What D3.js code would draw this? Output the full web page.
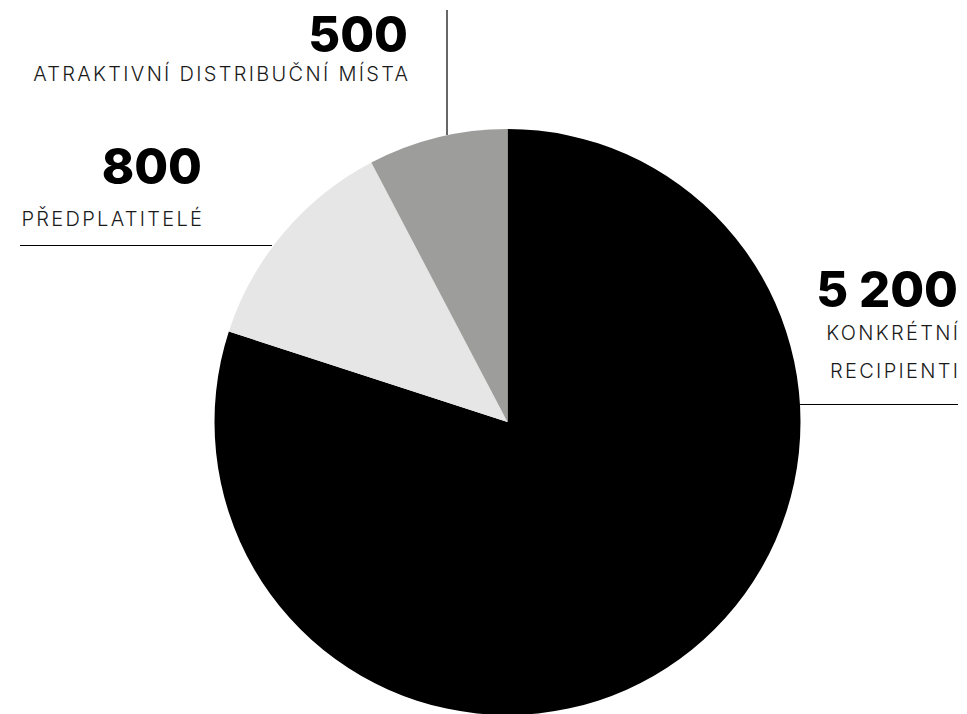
<!DOCTYPE html>
<html><head><meta charset="utf-8">
<script src="https://cdn.jsdelivr.net/npm/d3@7"></script>
<style>
html,body{margin:0;padding:0;background:#fff;}
svg{display:block;}
.num{font-family:Inter, sans-serif;font-weight:800;}
.lab{font-family:Inter, sans-serif;font-weight:300;letter-spacing:2.3px;}
</style></head>
<body>
<svg id="chart" width="967" height="714"></svg>
<script>
const categories = ["KONKRÉTNÍ RECIPIENTI", "PŘEDPLATITELÉ", "ATRAKTIVNÍ DISTRIBUČNÍ MÍSTA"];
const values = [5200, 800, 500];
const valueLabels = ["5 200", "800", "500"];
const labelLines = [["KONKRÉTNÍ", "RECIPIENTI"], ["PŘEDPLATITELÉ"], ["ATRAKTIVNÍ DISTRIBUČNÍ MÍSTA"]];
const colors = ["#000000", "#e6e6e6", "#9d9d9c"];

const svg = d3.select("#chart");
const cx = 507.5, cy = 422, r = 293;

const pie = d3.pie().sort(null).value(d => d)(values);
const arc = d3.arc().innerRadius(0).outerRadius(r);
const g = svg.append("g").attr("transform", `translate(${cx},${cy})`);
g.selectAll("path").data(pie).join("path")
  .attr("d", arc)
  .attr("fill", (d, i) => colors[i]);

// leader lines
svg.append("line").attr("x1", 447).attr("x2", 447).attr("y1", 10).attr("y2", 135)
  .attr("stroke", "#000").attr("stroke-width", 1.2);
svg.append("line").attr("x1", 20).attr("x2", 272).attr("y1", 245.5).attr("y2", 245.5)
  .attr("stroke", "#000").attr("stroke-width", 1.2);
svg.append("line").attr("x1", 800).attr("x2", 958).attr("y1", 404.5).attr("y2", 404.5)
  .attr("stroke", "#000").attr("stroke-width", 1.2);

// labels (letter-spacing adds trailing space; shift x by it)
const ls = 2.3;
const labelPos = [
  {x: 958, ny: 307, ly: [340, 378]},
  {x: 202, ny: 184, ly: [226]},
  {x: 408, ny: 52, ly: [81]}
];
categories.forEach((c, i) => {
  const p = labelPos[i];
  svg.append("text").attr("class", "num").attr("x", p.x).attr("y", p.ny)
    .attr("text-anchor", "end").attr("font-size", 49).text(valueLabels[i]);
  labelLines[i].forEach((t, j) => {
    svg.append("text").attr("class", "lab").attr("x", p.x + ls).attr("y", p.ly[j])
      .attr("text-anchor", "end").attr("font-size", 20).attr("fill", "#1a1a1a").text(t);
  });
});
</script>
</body></html>
